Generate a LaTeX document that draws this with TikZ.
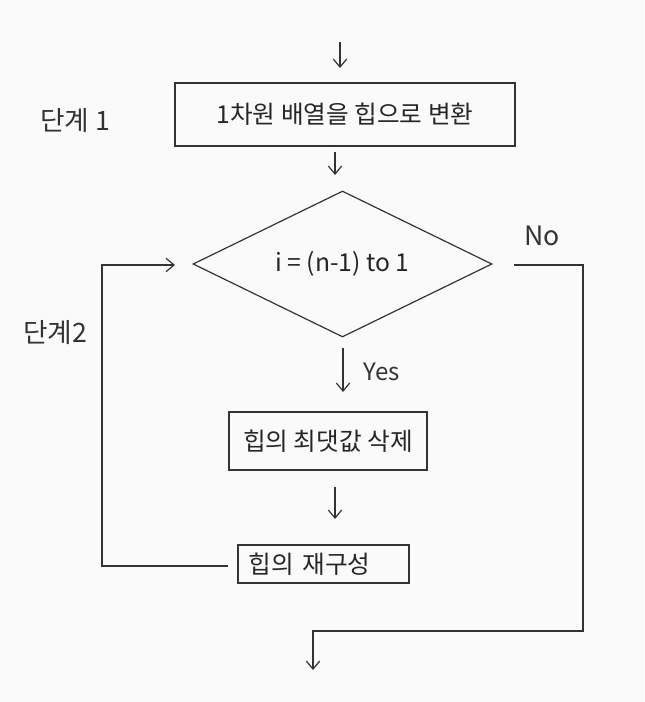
\documentclass[tikz,border=0pt]{standalone}
\usepackage{fontspec}
\setmainfont{Noto Sans CJK KR}
\usetikzlibrary{arrows.meta,positioning,shapes.geometric}
\definecolor{inkgray}{rgb}{0.2, 0.2, 0.2}
\definecolor{paper}{rgb}{0.98, 0.98, 0.98}

\begin{document}
\begin{tikzpicture}[x=0.75pt,y=-0.75pt, draw=inkgray, line width=0.9pt,
	>={Straight Barb[length=6pt,width=10pt]},
	font=\fontsize{18.5}{21}\selectfont,
	stepbox/.style={draw, rectangle, inner sep=0pt, text=black!85},
	cond/.style={draw, diamond, inner sep=0pt, aspect=2.05, text=black!85},
	hand/.style={inkgray, font=\fontsize{20}{22}\selectfont}]

\fill[paper] (0,0) rectangle (644,702);
\useasboundingbox (0,0) rectangle (644,702);

\node[stepbox, minimum width=255pt, minimum height=47.25pt]  (heap)  at (345,114.5) {1차원 배열을 힙으로 변환};
\node[cond, minimum width=224.25pt, minimum height=109.5pt]  (loop)  at (342.5,264)  {i = (n-1) to 1};
\node[stepbox, minimum width=148.5pt, minimum height=43.5pt] (del)   at (328,441)    {힙의 최댓값 삭제};
\node[stepbox, minimum width=128.25pt, minimum height=28.5pt,
      text width=112pt, align=left, inner xsep=8pt]           (rebuild) at (323.5,564) {힙의 재구성};

\node[hand] (s1)  at (75,121)  {단계 1};
\node[hand] (s2)  at (55,333)  {단계2};
\node[hand] (no)  at (542,236) {No};
\node[hand, font=\fontsize{18}{20}\selectfont] (yes) at (382,372) {Yes};

\coordinate (in)    at (340,42);
\coordinate (inE)   at (340,68);
\coordinate (h1)    at (335,152);
\coordinate (h1E)   at (335,175);
\coordinate (y1)    at (343,348);
\coordinate (y1E)   at (343,392);
\coordinate (d1)    at (335,487);
\coordinate (d1E)   at (335,519);
\coordinate (back)  at (228,566);
\coordinate (backE) at (175,265);
\coordinate (out)   at (514,265);
\coordinate (outE)  at (313,670);

\foreach \f/\t in {% start/end
	 in/inE,
	 h1/h1E,
	 y1/y1E,
	 d1/d1E}
	\draw[->] (\f) -- (\t);

% loop back to the condition
\draw[->] (back) -| (102,265) -- (backE);
% leave the loop
\draw[->] (out) -| (583,631) -| (outE);

\end{tikzpicture}
\end{document}
